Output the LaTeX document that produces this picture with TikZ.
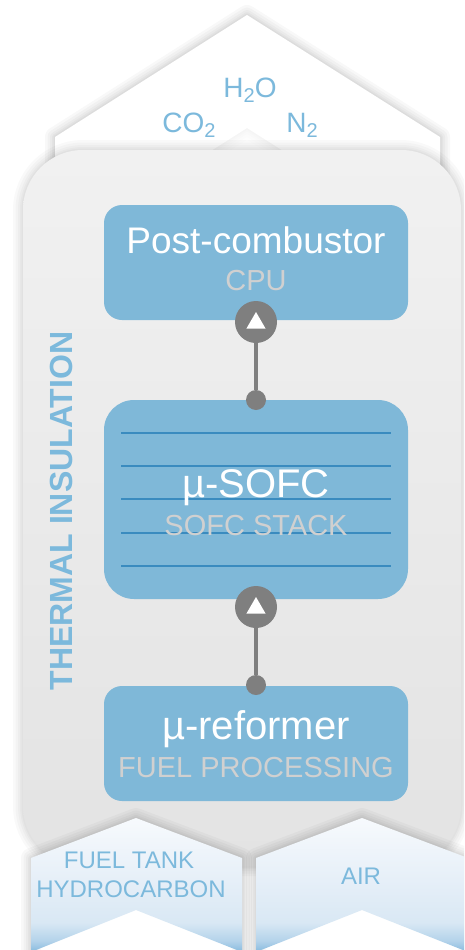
\documentclass[tikz,border=0pt]{standalone}
\usepackage{fontspec}
\setmainfont{Liberation Sans}
\usetikzlibrary{shapes.geometric}

\definecolor{boxblue}{HTML}{7FB8D8}
\definecolor{labelblue}{HTML}{7CB9DC}
\definecolor{stackline}{HTML}{3A8BBF}
\definecolor{subgray}{HTML}{D0D0D0}
\definecolor{linkgray}{HTML}{7F7F7F}
\definecolor{bodytop}{HTML}{F1F1F1}
\definecolor{bodybot}{HTML}{E3E3E3}
\definecolor{flowtop}{HTML}{F7FAFD}
\definecolor{flowmid}{HTML}{E6EFF8}
\definecolor{flowlow}{HTML}{D9E8F4}
\definecolor{flowdeep}{HTML}{B2D2EA}
\definecolor{flowbot}{HTML}{86BADE}

% vertical fill of the inlet chevrons: pale at the top, blue at the foot
\pgfdeclareverticalshading{inletfill}{100bp}{%
  color(0bp)=(flowbot); color(25bp)=(flowbot); color(29bp)=(flowdeep);
  color(36bp)=(flowlow); color(52bp)=(flowmid); color(75bp)=(flowtop); color(100bp)=(flowtop)}

% soft halo along a path, built from stacked translucent strokes
\newcommand\softshadow[2][0.022]{%
  \foreach \w in {20,15,10,6,3}{%
    \draw[line width=\w pt, black, opacity=#1, line join=round] #2;}}

% chemical subscript
\newcommand\chemsub[1]{\raisebox{-5pt}{\fontsize{20}{20}\selectfont #1}}

\begin{document}
\begin{tikzpicture}[x=1pt,y=-1pt,
  lbl/.style={inner sep=0pt, anchor=base, text=labelblue},
  gas/.style={lbl, font=\fontsize{28}{28}\selectfont},
  inlet/.style={lbl, font=\fontsize{24}{24}\selectfont},
  title/.style={inner sep=0pt, anchor=base, text=white},
  subt/.style={inner sep=0pt, anchor=base, text=subgray, font=\fontsize{29}{29}\selectfont},
  unit/.style={fill=boxblue, draw=none, inner sep=0pt, minimum width=304pt},
  hub/.style={circle, fill=linkgray, minimum size=42pt, inner sep=0pt},
  tap/.style={circle, fill=linkgray, minimum size=20pt, inner sep=0pt},
  tip/.style={regular polygon, regular polygon sides=3, fill=white, inner sep=0pt, minimum size=22pt},
  link/.style={draw=linkgray, line width=4pt},
  cell/.style={draw=stackline, line width=2.2pt}]

\useasboundingbox (0,0) rectangle (464,950);
\clip (0,0) rectangle (464,950);
\fill[white] (0,0) rectangle (464,950);

% exhaust chevron at the top
\softshadow[0.026]{(55,250) -- (55,137) -- (247,15) -- (440,137) -- (440,250)}
\softshadow[0.008]{(55,250) -- (247,128) -- (440,250)}
\fill[white] (55,250) -- (55,137) -- (247,15) -- (440,137) -- (440,250) -- (247,128) -- cycle;

% insulated housing
\softshadow[0.024]{[rounded corners=60pt] (23,150) rectangle (461,866)}
\shade[top color=bodytop, bottom color=bodybot, rounded corners=60pt] (23,150) rectangle (461,866);

\node[lbl, rotate=90, font=\bfseries\fontsize{32}{32}\selectfont] (insul) at (72,511) {THERMAL INSULATION};

% process units
\node[unit, rounded corners=18pt, minimum height=115pt] (pcb) at (256,262.5) {};
\node[unit, rounded corners=30pt, minimum height=199pt] (stack) at (256,499.5) {};
\node[unit, rounded corners=18pt, minimum height=115pt] (ref) at (256,743.5) {};

% cell layers of the stack
\foreach \yy in {433,466,499,533,566}
  \draw[cell] (121,\yy) -- (391,\yy);

\node[title, font=\fontsize{37}{37}\selectfont] (pcbt) at (256,253) {Post-combustor};
\node[subt] (pcbs) at (256,290) {CPU};
\node[title, font=\fontsize{40}{40}\selectfont] (stackt) at (256,497) {µ-SOFC};
\node[subt] (stacks) at (256,535) {SOFC STACK};
\node[title, font=\fontsize{40}{40}\selectfont] (reft) at (256,739) {µ-reformer};
\node[subt] (refs) at (256,777) {FUEL PROCESSING};

% flow links between the units
\node[hub] (hubA) at (256,322) {};
\node[tap] (tapA) at (256,400) {};
\node[hub] (hubB) at (256,607) {};
\node[tap] (tapB) at (256,685) {};
\draw[link] (hubA) -- (tapA);
\draw[link] (hubB) -- (tapB);
\node[tip] (tipA) at (256,323) {};
\node[tip] (tipB) at (256,608) {};

% exhaust gases
\node[gas] (h2o) at (250,97) {H\chemsub{2}O};
\node[gas] (co2) at (189,132) {CO\chemsub{2}};
\node[gas] (n2) at (302,132) {N\chemsub{2}};

% inlet chevrons
\softshadow[0.026]{(31,952) -- (31,858) -- (136,818) -- (242,858) -- (242,952)}
\softshadow[0.026]{(256,952) -- (256,858) -- (362,818) -- (468,858) -- (468,952)}
\shade[shading=inletfill] (31,858) -- (136,818) -- (242,858) -- (242,952) -- (136,910) -- (31,952) -- cycle;
\shade[shading=inletfill] (256,858) -- (362,818) -- (468,858) -- (468,952) -- (362,910) -- (256,952) -- cycle;

\node[inlet] (fuel1) at (129,868) {FUEL TANK};
\node[inlet] (fuel2) at (131,897) {HYDROCARBON};
\node[inlet] (air) at (361,884) {AIR};
\end{tikzpicture}
\end{document}
